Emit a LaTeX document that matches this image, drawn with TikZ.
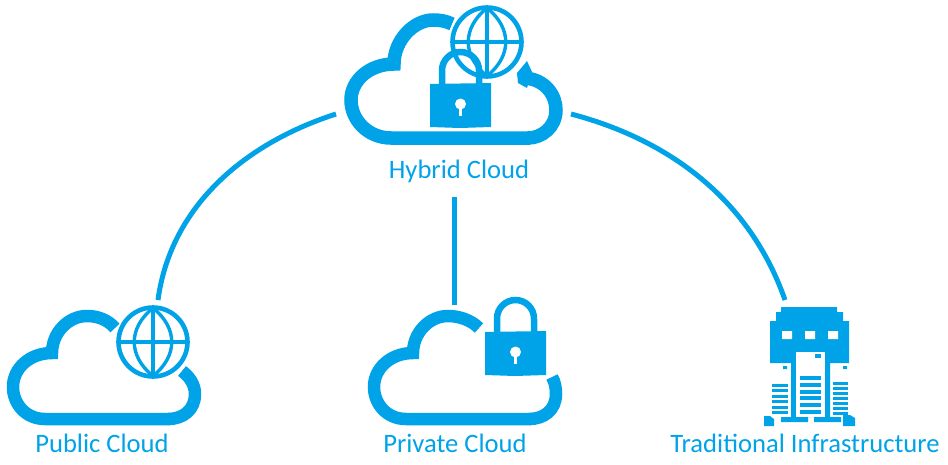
\documentclass[tikz,border=0pt]{standalone}
\usepackage{fontspec}
\setmainfont{Carlito}
\definecolor{az}{HTML}{00A2E8}
\tikzset{
  lobe/.style={draw=az,line width=12.5pt,line cap=butt,line join=miter,miter limit=10,fill=none},
  conn/.style={draw=az,line width=5pt},
  lab/.style={text=az,font=\fontsize{26.6}{30}\selectfont,inner sep=0pt,anchor=base},
  pics/globe/.style={code={
    \draw[az,line width=4.6pt,fill=white] (0,0) circle (34.5);
    \draw[az,line width=3.4pt] (-34,0) -- (34,0) (0,-34) -- (0,34);
    \draw[az,line width=3.4pt] (0,-34) .. controls (-25,-14) and (-25,14) .. (0,34) .. controls (25,14) and (25,-14) .. (0,-34);
  }},
  pics/padlock/.style={code={
    \draw[az,line width=6.5pt] (12,2) -- (12,-13.5) arc[start angle=180,end angle=360,radius=18.5] (49,-13.5) -- (49,2);
    \fill[az] (0,0) -- (61,-1) -- (61,43) -- (30,44) -- (0,43) -- cycle;
    \fill[white] (30.5,20) circle (5.5);
    \fill[white] (29,20) rectangle (32,32);
  }}
}
\begin{document}
\begin{tikzpicture}[x=1pt,y=-1pt]
\useasboundingbox (0,0) rectangle (948,464);
% Public cloud
\draw[lobe] (170,419) -- (45,419) .. controls (25,419) and (13,403) .. (13,387) .. controls (13,368) and (30,353) .. (52,353) .. controls (52,333) and (68,316) .. (87,316) .. controls (98,316) and (108,320) .. (115,328);
\draw[lobe] (182,371) .. controls (190,377) and (195,385) .. (195,394) .. controls (195,410) and (183,419) .. (168,419);
\pic at (153,342) {globe};
% Private cloud
\draw[lobe] (531,419) -- (406,419) .. controls (386,419) and (374,403) .. (374,387) .. controls (374,368) and (391,353) .. (413,353) .. controls (413,333) and (429,316) .. (448,316) .. controls (459,316) and (471,320) .. (479,328);
\draw[lobe] (552,377) .. controls (555,382) and (556,388) .. (556,394) .. controls (556,410) and (544,419) .. (529,419);
\pic at (485,332) {padlock};
% Hybrid cloud
\draw[lobe,line width=13.5pt] (530,138) -- (391,138) .. controls (368,138) and (351,120) .. (351,100) .. controls (351,80) and (370,64) .. (394,64) .. controls (394,40) and (414,20) .. (433,20) .. controls (440,20) and (446,21) .. (452,24);
\draw[lobe,line width=13.5pt] (524,78) .. controls (545,79) and (556,95) .. (556,110) .. controls (556,127) and (542,138) .. (528,138);
\fill[az] (517,73) -- (527,61) -- (532,72) -- (527,88) -- (518,83) -- cycle;
\pic at (487,42) {globe};
\pic at (430,84) {padlock};
% Server
\fill[az] (781,307) -- (837,307) -- (837,312) -- (843,312) -- (843,321) -- (849,321) -- (849,363) -- (830,363) -- (830,417) -- (791,417) -- (791,363) -- (770,363) -- (770,321) -- (776,321) -- (776,312) -- (781,312) -- cycle;
\fill[white] (796,352) rectangle (825,416.5);
\fill[white] (782,331) rectangle (792,339) (805,331) rectangle (815,339) (828,331) rectangle (838,339);
\fill[az] (815,354) rectangle (821,358);
\foreach \y in {378,385,392,398,405,412} {\fill[az] (800,\y-2) rectangle (821,\y+2);}
\foreach \y in {385,390.5,396,401.5,407,412.5} {\fill[az] (772,\y-1.5) rectangle (788,\y+1.5);}
\foreach \y in {383.5,388.5,393.5,398.5,403.5,408.5,413} {\fill[az] (833,\y-1.5) rectangle (848,\y+1.5);}
\fill[az] (783,366) rectangle (787,369) (843,366) rectangle (847,369);
\fill[az] (781,417) rectangle (808,422) (814,417) rectangle (841,422);
\fill[az] (764,416) -- (770,416) -- (774,419) -- (774,426) -- (764,426) -- cycle;
\fill[az] (843,415) -- (850,415) -- (855,418) -- (855,426) -- (843,426) -- cycle;
% Labels
\node[lab] (hybrid) at (459,178) {Hybrid Cloud};
\node[lab] (public) at (102,452) {Public Cloud};
\node[lab] (private) at (455,452) {Private Cloud};
\node[lab] (trad) at (805,452) {Traditional Infrastructure};
% Connectors
\coordinate (hl) at (336,114);
\coordinate (hr) at (571,114);
\coordinate (hb) at (454,197);
\coordinate (pubt) at (158,300);
\coordinate (privt) at (454,305);
\coordinate (tradt) at (785,300);
\draw[conn] (hl) .. controls (240,145) and (170,210) .. (pubt);
\draw[conn] (hb) -- (privt);
\draw[conn] (hr) .. controls (670,140) and (750,200) .. (tradt);
\end{tikzpicture}
\end{document}
